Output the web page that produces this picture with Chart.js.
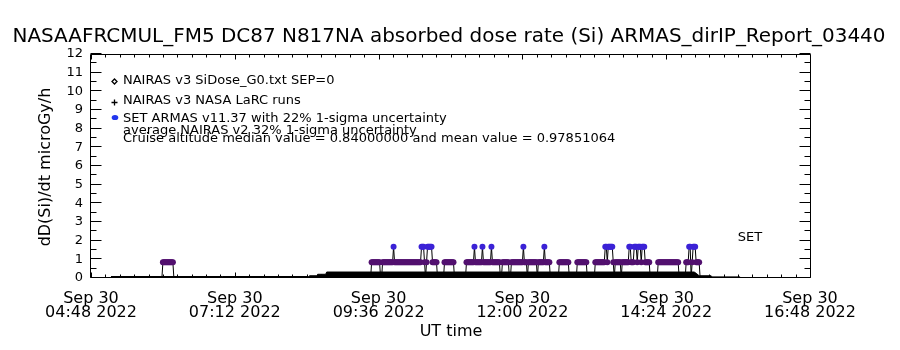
<!DOCTYPE html>
<html><head><meta charset="utf-8">
<script src="https://cdn.jsdelivr.net/npm/chart.js@4"></script>
<style>html,body{margin:0;padding:0;background:#fff;} #wrap{width:900px;height:350px;}</style>
</head><body>
<div id="wrap"><canvas id="c" width="900" height="350"></canvas></div>
<script>
// ---- data (times in minutes since 00:00 UT, 30 Sep 2022) ----
const L = 0.84, H = 1.68;   // ARMAS quantized dose-rate levels (microGy/h)
const xTickValues = [288, 432, 576, 720, 864, 1008];
const xTickDates  = ['Sep 30', 'Sep 30', 'Sep 30', 'Sep 30', 'Sep 30', 'Sep 30'];
const xTickTimes  = ['04:48 2022', '07:12 2022', '09:36 2022', '12:00 2022', '14:24 2022', '16:48 2022'];
const yTickValues = [0,1,2,3,4,5,6,7,8,9,10,11,12];

// NAIRAS model profile (black filled band)
const nairasTime = [308, 420, 506, 507, 514, 515, 523, 524, 700, 892, 894, 897, 909, 910, 938];
const nairasDose = [0.08, 0.08, 0.08, 0.12, 0.12, 0.2, 0.2, 0.32, 0.32, 0.32, 0.25, 0.12, 0.12, 0.06, 0.06];

// ARMAS 1-minute dose rate, first segment
const armasStart1 = 359;
const armasDose1 = [0, L,L,L,L,L,L,L,L,L,L,L, 0];
// ARMAS 1-minute dose rate, second segment
const armasStart2 = 568;
const armasDose2 = [
  0, L,L,L,L,L,L,L,L,L, 0,0, L,L,L,L,L,L,L,L,L,L,L,
  H, L,L,L,L,L,L,L,L,L,L, L,L,L,L,L,L,L,L,L,L, L,L,L,L,L,L,L,
  H,H,H, L, 0, L, H,H,H,H,H, L,L,L,L,L,
  0,0,0,0,0,0,0, L,L,L,L,L,L,L,L,L,L,
  0,0,0,0,0,0,0,0,0,0,0,0,
  L,L,L,L,L,L,L,L, H, L,L,L,L,L,L,L, H, L,L,L,L,L,L,L,L, H, L,L,L,L,L,L,L,L,
  0,0, L,L,L,L,L,L,L, 0,0, L,L,L,L,L,L,L,L,L,L,L,L, H, L,L,L, 0, L,L,L,L,L,L,L,L,L, 0, L,L,L,L,L,L, H, L,L,L,L,L,
  0,0,0,0,0,0,0,0,0, L,L,L,L,L,L,L,L,L,L, 0,0,0,0,0,0,0,0, L,L,L,L,L,L,L,L,L,L, 0,0,0,0,0,0,0,0,
  L,L,L,L,L,L,L,L,L,L, H,H, L, H,H,H,H,H, L, 0, L,L,L,L,L,L, 0, L,L,L,L,L,L,L, H,H, L,L,L, H,H,H, L, H,H,H, L, H,H,H, L,L,L,L,L,
  0,0,0,0,0,0,0,0, L,L,L,L,L,L,L,L,L,L,L,L,L,L,L,L,L,L,L,L,L, 0,0,0,0,0,0,0, L,L,L, H,H, 0, L, H,H,H, L,L,L,L, 0
];

const titleText = 'NASAAFRCMUL_FM5 DC87 N817NA absorbed dose rate (Si) ARMAS_dirIP_Report_03440';
const yTitle = 'dD(Si)/dt microGy/h';
const xTitle = 'UT time';
const legendTexts = [
  'NAIRAS v3 SiDose_G0.txt SEP=0',
  'NAIRAS v3 NASA LaRC runs',
  'SET ARMAS v11.37 with 22% 1-sigma uncertainty',
  'average NAIRAS v2 32% 1-sigma uncertainty',
  'Cruise altitude median value = 0.84000000 and mean value = 0.97851064'
];

// ---- build datasets ----
const nairasPts = nairasTime.map((t, i) => ({x: t, y: nairasDose[i]}));
const armasPts = armasDose1.map((v, i) => ({x: armasStart1 + i, y: v}))
  .concat(armasDose2.map((v, i) => ({x: armasStart2 + i, y: v})));

const PURPLE = '#52106f', BLUE = '#3b22d6', LEGBLUE = '#2236ee';

const FONT = '"DejaVu Sans", "Liberation Sans", sans-serif';
Chart.defaults.font.family = FONT;
Chart.defaults.color = '#000';

const idlFrame = {
  id: 'idlFrame',
  afterDraw(chart) {
    const {ctx, chartArea: a, scales: {x, y}} = chart;
    ctx.save();
    ctx.strokeStyle = '#000';
    ctx.lineWidth = 1;
    const l = Math.round(a.left) - 0.5, r = Math.round(a.right) + 0.5;
    const t = Math.round(a.top) + 0.5, b = Math.round(a.bottom) - 0.5;
    ctx.beginPath();
    ctx.rect(l, t, r - l, b - t);
    // y ticks (inward, both sides)
    for (let v = 0; v <= 12; v += 0.5) {
      const py = Math.round(y.getPixelForValue(v)) - 0.5;
      const len = Number.isInteger(v) ? 11 : 6;
      ctx.moveTo(l, py); ctx.lineTo(l + len, py);
      ctx.moveTo(r, py); ctx.lineTo(r - len, py);
    }
    // x ticks (inward, top and bottom), 10 minor per major
    for (let k = 0; k <= 50; k++) {
      const v = xTickValues[0] + k * (xTickValues[1] - xTickValues[0]) / 10;
      const px = Math.round(x.getPixelForValue(v)) + 0.5;
      const len = k % 10 === 0 ? 5 : 3;
      ctx.moveTo(px, b); ctx.lineTo(px, b - len);
      ctx.moveTo(px, t); ctx.lineTo(px, t + len);
    }
    ctx.stroke();

    ctx.fillStyle = '#000';
    ctx.textBaseline = 'middle';
    // title
    ctx.textAlign = 'center';
    ctx.font = '20px ' + FONT;
    ctx.fillText(titleText, 449, 37, 873);
    // x title
    ctx.font = '16px ' + FONT;
    ctx.fillText(xTitle, 451, 332);
    // y title
    ctx.save();
    ctx.translate(46, 167);
    ctx.rotate(-Math.PI / 2);
    ctx.font = '16px ' + FONT;
    ctx.fillText(yTitle, 0, 0, 170);
    ctx.restore();
    // SET label
    ctx.font = '13px ' + FONT;
    ctx.fillText('SET', 750, 238);
    // legend
    ctx.textAlign = 'left';
    const ly = [81, 101, 119, 131, 139];
    legendTexts.forEach((s, i) => ctx.fillText(s, 123, ly[i]));
    // legend symbols
    ctx.lineWidth = 1.3;
    ctx.beginPath();
    ctx.moveTo(114.5, 79); ctx.lineTo(117, 81.5); ctx.lineTo(114.5, 84); ctx.lineTo(112, 81.5); ctx.closePath();
    ctx.stroke();
    ctx.beginPath();
    ctx.moveTo(111.5, 102.5); ctx.lineTo(117.5, 102.5);
    ctx.moveTo(114.5, 99.5); ctx.lineTo(114.5, 105.5);
    ctx.stroke();
    ctx.fillStyle = LEGBLUE;
    ctx.beginPath();
    ctx.ellipse(115, 117.5, 3.3, 2.6, 0, 0, Math.PI * 2);
    ctx.fill();
    ctx.restore();
  }
};

new Chart(document.getElementById('c'), {
  type: 'line',
  data: {
    datasets: [
      {
        label: 'SET ARMAS',
        data: armasPts,
        order: 1,
        borderColor: '#000',
        borderWidth: 1,
        fill: false,
        pointRadius: c => (c.raw && c.raw.y > 0) ? 3 : 0,
        pointBorderWidth: 0,
        pointBackgroundColor: c => (c.raw && c.raw.y > 1.2) ? BLUE : PURPLE,
        pointBorderColor: 'rgba(0,0,0,0)'
      },
      {
        label: 'NAIRAS',
        data: nairasPts,
        order: 2,
        borderColor: '#000',
        borderWidth: 1,
        backgroundColor: '#000',
        fill: 'origin',
        pointRadius: 0
      }
    ]
  },
  options: {
    responsive: false,
    devicePixelRatio: 1,
    animation: false,
    events: [],
    layout: {padding: {left: 0, top: 54, right: 90, bottom: 0}},
    plugins: {legend: {display: false}, tooltip: {enabled: false}, title: {display: false}},
    scales: {
      x: {
        type: 'linear',
        min: 288, max: 1008,
        grid: {display: false, drawTicks: false},
        border: {display: false},
        afterBuildTicks: s => { s.ticks = xTickValues.map(v => ({value: v})); },
        afterFit: s => { s.height = 72; },
        ticks: {
          autoSkip: false, maxRotation: 0, minRotation: 0,
          padding: 14,
          font: {size: 16, lineHeight: 0.88},
          color: '#000',
          callback: (v, i) => [xTickDates[i], xTickTimes[i]]
        }
      },
      y: {
        min: 0, max: 12,
        grid: {display: false, drawTicks: false},
        border: {display: false},
        afterBuildTicks: s => { s.ticks = yTickValues.map(v => ({value: v})); },
        afterFit: s => { s.width = 91; },
        ticks: {padding: 8, font: {size: 13}, color: '#000', callback: v => String(v)}
      }
    }
  },
  plugins: [idlFrame]
});
</script>
</body></html>
